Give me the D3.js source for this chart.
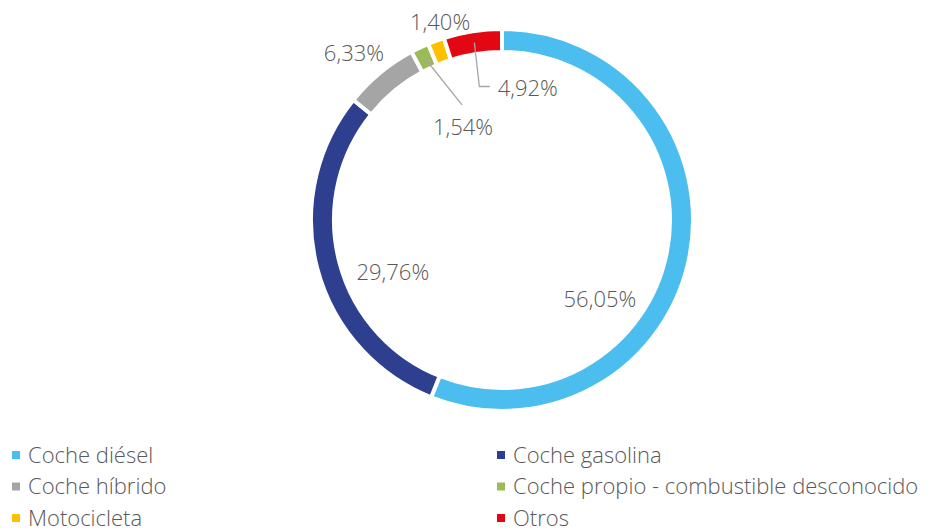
<!DOCTYPE html>
<html>
<head>
<meta charset="utf-8">
<script src="https://cdn.jsdelivr.net/npm/d3@7"></script>
<style>
  body { margin: 0; background: #fff; }
  text { font-family: "Open Sans", sans-serif; font-weight: 300; fill: #595959; }
</style>
</head>
<body>
<script>
// data
const categories = ["Coche diésel", "Coche gasolina", "Coche híbrido",
  "Coche propio - combustible desconocido", "Motocicleta", "Otros"];
const shares = [56.05, 29.76, 6.33, 1.54, 1.40, 4.92];
const colors = ["#4BBEEF", "#2E3F8F", "#A5A5A5", "#9BBB59", "#FFC000", "#E30613"];

// label placement (polar, around the centre): angle in degrees, radius in px
const labelAngle = [129, 244.5, 318.4, 337.3, 342.6, 11.1];
const labelRadius = [126, 121, 223, 101, 207, 134];

var width = 928, height = 528;
var cx = 502, cy = 220, outerR = 191, innerR = 168;

var svg = d3.select("body").append("svg")
    .attr("width", width)
    .attr("height", height);

var g = svg.append("g")
    .attr("transform", "translate(" + cx + "," + cy + ")");

var pie = d3.pie().sort(null).value(function(d) { return d; });
var arcs = pie(shares);

var arc = d3.arc().innerRadius(innerR).outerRadius(outerR);

g.selectAll("path.slice")
    .data(arcs)
  .enter().append("path")
    .attr("class", "slice")
    .attr("d", arc)
    .style("fill", function(d, i) { return colors[i]; })
    .style("stroke", "#fff")
    .style("stroke-width", 4);

function polar(a, r) {
  var rad = a * Math.PI / 180;
  return [r * Math.sin(rad), -r * Math.cos(rad)];
}
function fmt(v) { return v.toFixed(2).replace(".", ",") + "%"; }

// leader lines for the two small slices whose labels sit away from the ring
var onRing = function(d) {
  var a = (d.startAngle + d.endAngle) / 2, r = (innerR + outerR) / 2;
  return [r * Math.sin(a), -r * Math.cos(a)];
};
var p3 = onRing(arcs[3]), l3 = polar(labelAngle[3], labelRadius[3]);
g.append("path")
    .attr("d", d3.line()([p3, [l3[0] - 1, l3[1] - 22]]))
    .style("fill", "none").style("stroke", "#A6A6A6").style("stroke-width", 1.3);

var p5 = onRing(arcs[5]), l5 = polar(labelAngle[5], labelRadius[5]);
g.append("path")
    .attr("d", d3.line()([p5, [p5[0] + 5, l5[1] - 2], [l5[0] - 38, l5[1] - 2]]))
    .style("fill", "none").style("stroke", "#A6A6A6").style("stroke-width", 1.3);

// value labels
g.selectAll("text.lbl")
    .data(arcs)
  .enter().append("text")
    .attr("class", "lbl")
    .attr("transform", function(d, i) {
      var p = polar(labelAngle[i], labelRadius[i]);
      return "translate(" + p[0] + "," + p[1] + ")";
    })
    .attr("text-anchor", "middle")
    .attr("dy", "0.35em")
    .style("font-size", "22px")
    .text(function(d) { return fmt(d.data); });

// legend
var legX = d3.scaleOrdinal().domain([0, 1]).range([12, 497]);
var legY = d3.scaleLinear().domain([0, 2]).range([455, 518]);

var leg = svg.selectAll("g.leg")
    .data(categories)
  .enter().append("g")
    .attr("class", "leg")
    .attr("transform", function(d, i) {
      return "translate(" + legX(i % 2) + "," + legY(Math.floor(i / 2)) + ")";
    });

leg.append("rect")
    .attr("x", 0).attr("y", -4)
    .attr("width", 8).attr("height", 8)
    .style("fill", function(d, i) { return colors[i]; });

leg.append("text")
    .attr("x", 16)
    .attr("dy", "0.35em")
    .style("font-size", "22px")
    .text(function(d) { return d; });
</script>
</body>
</html>
